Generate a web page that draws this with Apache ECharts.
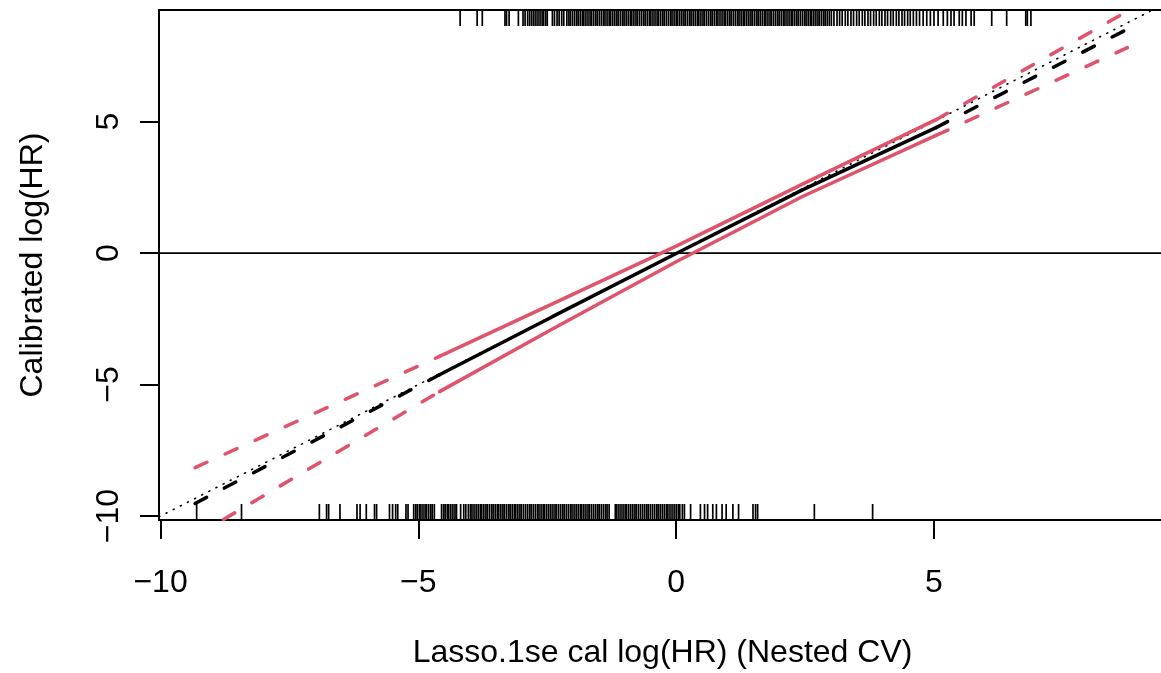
<!DOCTYPE html>
<html>
<head>
<meta charset="utf-8">
<script src="https://cdn.jsdelivr.net/npm/echarts@6/dist/echarts.min.js"></script>
<style>
html,body{margin:0;padding:0;background:#fff;}
#chart{width:1161px;height:673px;}
</style>
</head>
<body>
<div id="chart"></div>
<script>
// ---- data ----
const xTicks = [-10, -5, 0, 5];
const yTicks = [-10, -5, 0, 5];
const xTitle = 'Lasso.1se cal log(HR) (Nested CV)';
const yTitle = 'Calibrated log(HR)';

// solid calibration curve and its confidence band
const calX   = [-4.59, -2.40, 0.00, 2.45, 5.04];
const calY   = [-4.63, -2.42, -0.02, 2.40, 4.77];
const upperY = [-3.93, -1.93, 0.26, 2.62, 5.07];
const lowerY = [-5.27, -2.89, -0.33, 2.15, 4.47];

// dashed extrapolations
const extLeftX  = [-9.33, -4.59];
const extRightX = [5.04, 8.75];
const calLeftY    = [-9.52, -4.63];
const calRightY   = [4.77, 8.51];
const upperLeftY  = [-8.16, -3.93];
const upperRightY = [5.07, 9.19];
const lowerLeftY  = [-10.77, -5.27];
const lowerRightY = [4.47, 7.81];

// identity line
const identX = [-10.03, 9.5];
const identY = [-10.03, 9.5];

// rug ticks
const topRug = [-4.19,-3.86,-3.76,-3.32,-3.29,-3.24,-3.06,
-2.97,-2.93,-2.88,-2.84,-2.80,-2.76,-2.72,-2.68,-2.64,-2.60,-2.57,-2.53,-2.50,
-2.40,-2.36,-2.31,-2.27,-2.22,-2.18,
-2.12,-2.08,-2.05,-2.01,-1.97,-1.93,-1.90,-1.86,-1.82,-1.79,-1.75,-1.71,-1.67,-1.64,-1.60,-1.56,-1.53,-1.49,-1.45,-1.41,-1.38,-1.34,-1.30,-1.27,-1.23,-1.19,-1.15,-1.12,-1.08,-1.04,-1.01,-0.97,-0.93,-0.89,-0.86,-0.82,-0.78,-0.75,-0.71,-0.67,-0.63,-0.60,-0.56,-0.52,-0.49,-0.45,-0.41,-0.37,-0.34,-0.30,-0.26,-0.23,-0.19,-0.15,-0.11,-0.08,-0.04,0.00,0.03,0.07,0.11,0.15,0.18,0.22,0.26,0.29,0.33,0.37,0.41,0.44,0.48,0.52,0.55,0.59,0.63,0.67,0.70,0.74,0.78,0.81,0.85,0.89,0.93,0.96,1.00,1.04,1.07,1.11,1.15,1.19,1.22,1.26,1.30,1.33,1.37,1.41,1.45,1.48,1.52,1.56,1.59,1.63,1.67,1.71,1.74,1.78,1.82,1.85,1.89,1.93,1.97,2.00,2.04,2.08,2.11,2.15,2.19,2.23,2.26,2.30,2.34,2.37,2.41,2.45,2.49,2.52,2.56,2.60,2.63,2.67,2.71,2.75,2.78,2.82,2.86,2.89,2.93,2.97,3.01,
3.06,3.12,3.17,3.22,3.28,3.33,3.39,3.44,3.50,3.55,3.61,3.66,3.72,3.77,3.83,3.88,3.94,3.99,4.05,4.10,4.16,4.21,4.27,4.32,4.38,4.43,4.49,4.54,4.60,4.66,4.72,4.79,4.86,4.93,5.00,5.08,
5.18,5.26,5.33,5.39,5.49,5.55,5.62,5.72,5.78,6.12,6.41,6.78,6.81,6.88];

const bottomRug = [-9.30,-8.43,-6.92,-6.78,-6.74,-6.52,-6.19,-6.13,-6.01,-5.85,-5.81,-5.56,-5.50,-5.44,-5.40,-5.24,-5.20,
-5.09,-5.05,-5.02,-4.98,-4.95,-4.91,-4.87,-4.84,-4.80,-4.76,-4.73,-4.69,
-4.55,-4.51,-4.48,-4.44,-4.41,-4.37,-4.33,-4.29,-4.26,
-4.18,-4.12,-4.08,-4.03,-3.99,-3.96,-3.92,-3.88,-3.84,-3.80,-3.77,-3.73,-3.69,-3.66,-3.62,-3.58,-3.55,-3.51,-3.47,-3.44,-3.40,-3.36,-3.33,-3.29,-3.25,-3.22,-3.18,-3.14,-3.11,-3.07,-3.03,-3.00,-2.96,-2.92,-2.88,-2.84,-2.81,-2.77,-2.73,-2.69,-2.66,-2.62,-2.58,-2.55,-2.51,-2.47,-2.43,-2.39,-2.35,-2.32,-2.28,-2.24,-2.20,-2.17,-2.13,-2.09,-2.05,-2.02,-1.98,-1.94,-1.90,-1.86,-1.83,-1.79,-1.75,-1.71,-1.68,-1.64,-1.60,-1.56,-1.52,-1.49,-1.45,-1.41,-1.37,-1.34,-1.30,-1.18,-1.15,-1.11,-1.07,-1.03,-0.99,-0.96,-0.92,-0.88,-0.84,-0.80,-0.77,-0.73,-0.69,-0.65,-0.61,-0.57,-0.54,-0.50,-0.46,-0.42,-0.38,-0.35,-0.31,-0.27,-0.23,-0.19,-0.16,-0.12,-0.08,-0.04,0.00,0.04,0.07,
0.12,0.16,0.28,0.47,0.55,0.61,0.71,0.78,0.89,0.97,1.10,1.21,1.49,1.54,1.58,2.68,3.81];

// ---- chart ----
const X_MIN = -10.03, X_MAX = 9.50, Y_MIN = -10.15, Y_MAX = 9.24;
const RED = '#DF536B';
const FONT = 'Liberation Sans';
const FS = 32;
const zip = (xs, ys) => xs.map((x, i) => [x, ys[i]]);
const fmt = v => String(v).replace('-', '\u2212');

function lineSeries(xs, ys, color, width, type, z) {
  return {
    type: 'line', data: zip(xs, ys), symbol: 'none', silent: true, z: z || 3,
    clip: true, animation: false,
    lineStyle: { color: color, width: width, type: type, cap: 'round' }
  };
}
function rugSeries(vals, top) {
  return {
    type: 'custom', silent: true, animation: false, z: 2, clip: true,
    data: vals.map(v => [v]),
    encode: { x: 0 },
    renderItem: function (params, api) {
      const p = api.coord([api.value(0), top ? Y_MAX : Y_MIN]);
      const len = 16;
      return {
        type: 'line',
        shape: { x1: p[0], y1: p[1], x2: p[0], y2: top ? p[1] + len : p[1] - len },
        style: { stroke: '#000', lineWidth: 1.7 }
      };
    }
  };
}

const chart = echarts.init(document.getElementById('chart'), null, { renderer: 'canvas' });
const dash = [13, 20];
chart.setOption({
  animation: false,
  backgroundColor: '#fff',
  textStyle: { fontFamily: FONT },
  grid: { left: 159, top: 10, right: -5, bottom: 153, show: true, borderColor: '#000', borderWidth: 2,
          backgroundColor: 'transparent', containLabel: false, outerBoundsMode: 'none' },
  xAxis: {
    type: 'value', min: X_MIN, max: X_MAX,
    name: xTitle, nameLocation: 'middle', nameGap: 117,
    nameTextStyle: { fontFamily: FONT, fontSize: FS, color: '#000' },
    axisLine: { show: false, onZero: false },
    axisTick: { show: true, length: 19, lineStyle: { color: '#000', width: 2 }, customValues: xTicks },
    axisLabel: { show: true, customValues: xTicks, formatter: fmt, margin: 47, fontFamily: FONT, fontSize: FS, color: '#000' },
    splitLine: { show: false }
  },
  yAxis: {
    type: 'value', min: Y_MIN, max: Y_MAX,
    name: yTitle, nameLocation: 'middle', nameGap: 110, nameRotate: 90,
    nameTextStyle: { fontFamily: FONT, fontSize: FS, color: '#000' },
    axisLine: { show: false, onZero: false },
    axisTick: { show: true, length: 19, lineStyle: { color: '#000', width: 2 }, customValues: yTicks },
    axisLabel: { show: true, rotate: 90, customValues: yTicks, formatter: fmt, margin: 34, fontFamily: FONT, fontSize: FS, color: '#000' },
    splitLine: { show: false }
  },
  series: [
    rugSeries(topRug, true),
    rugSeries(bottomRug, false),
    lineSeries([X_MIN, X_MAX], [0, 0], '#000', 1.8, 'solid', 2),
    lineSeries(identX, identY, '#000', 1.6, [1, 7], 3),
    lineSeries(extLeftX, upperLeftY, RED, 3.5, dash, 4),
    lineSeries(extLeftX, lowerLeftY, RED, 3.5, dash, 4),
    lineSeries(extRightX, upperRightY, RED, 3.5, dash, 4),
    lineSeries(extRightX, lowerRightY, RED, 3.5, dash, 4),
    lineSeries(extLeftX, calLeftY, '#000', 3.5, dash, 5),
    lineSeries(extRightX, calRightY, '#000', 3.5, dash, 5),
    lineSeries(calX, upperY, RED, 3.5, 'solid', 4),
    lineSeries(calX, lowerY, RED, 3.5, 'solid', 4),
    lineSeries(calX, calY, '#000', 3.5, 'solid', 5)
  ]
});
</script>
</body>
</html>
